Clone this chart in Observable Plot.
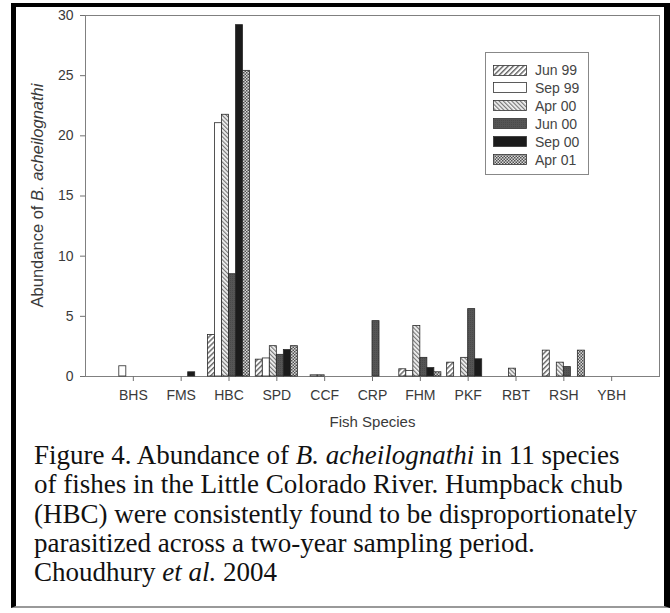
<!DOCTYPE html>
<html>
<head>
<meta charset="utf-8">
<script src="https://cdn.jsdelivr.net/npm/d3@7"></script>
<script src="https://cdn.jsdelivr.net/npm/@observablehq/plot@0.6"></script>
<style>
  html, body { margin: 0; padding: 0; background: #fff; }
  #page { position: relative; width: 670px; height: 613px; overflow: hidden; background: #fff; }
  #border { position: absolute; left: 11px; top: 3px; width: 659px; height: 605px; box-sizing: border-box;
    border-left: 5px solid #000; border-top: 4px solid #000; border-right: 6px solid #000; border-bottom: 2px solid #999; }
  #chart { position: absolute; left: 0; top: 0; }
  #legend { position: absolute; left: 485px; top: 52px; width: 104px; height: 123px; box-sizing: border-box;
    border: 1px solid #888; background: #fff; font-family: "Liberation Sans", Arial, sans-serif; font-size: 14px; color: #444; }
  .lrow { position: absolute; left: 7px; height: 18px; display: flex; align-items: center; }
  .lrow svg { display: block; margin-right: 8px; }
  #caption { position: absolute; left: 34px; top: 441px; width: 630px; font-family: "Liberation Serif", "Times New Roman", serif;
    font-size: 27px; line-height: 29.3px; color: #111; white-space: nowrap; }
</style>
</head>
<body>
<div id="page">
  <svg width="0" height="0" style="position:absolute">
    <defs>
      <pattern id="pJun99" patternUnits="userSpaceOnUse" width="3.6" height="3.6" patternTransform="rotate(45)">
        <rect width="3.6" height="3.6" fill="#fff"/>
        <line x1="0.7" y1="0" x2="0.7" y2="3.6" stroke="#666" stroke-width="1.5"/>
      </pattern>
      <pattern id="pApr00" patternUnits="userSpaceOnUse" width="3" height="3" patternTransform="rotate(-45)">
        <rect width="3" height="3" fill="#f4f4f4"/>
        <line x1="0.6" y1="0" x2="0.6" y2="3" stroke="#777" stroke-width="1.2"/>
      </pattern>
      <pattern id="pJun00" patternUnits="userSpaceOnUse" width="2" height="2">
        <rect width="2" height="2" fill="#555"/>
        <rect width="1" height="1" fill="#4a4a4a"/>
      </pattern>
      <pattern id="pApr01" patternUnits="userSpaceOnUse" width="3" height="3">
        <rect width="3" height="3" fill="#d8d8d8"/>
        <rect x="0" y="0" width="1.5" height="1.5" fill="#505050"/>
        <rect x="1.5" y="1.5" width="1.5" height="1.5" fill="#505050"/>
      </pattern>
    </defs>
  </svg>
  <div id="border"></div>
  <div id="chart"></div>
  <div id="legend"></div>
  <div id="caption">Figure 4. Abundance of <i>B. acheilognathi</i> in 11 species<br>of fishes in the Little Colorado River. Humpback chub<br>(HBC) were consistently found to be disproportionately<br>parasitized across a two-year sampling period.<br>Choudhury <i>et al.</i> 2004</div>
</div>
<script>
// ---- data ----
const species = ["BHS", "FMS", "HBC", "SPD", "CCF", "CRP", "FHM", "PKF", "RBT", "RSH", "YBH"];
const seriesNames = ["Jun 99", "Sep 99", "Apr 00", "Jun 00", "Sep 00", "Apr 01"];
const jun99 = [0, 0, 3.45, 1.4, 0, 0, 0.6, 1.15, 0, 2.15, 0];
const sep99 = [0.85, 0, 21.05, 1.5, 0.1, 0, 0.45, 0, 0, 0, 0];
const apr00 = [0, 0, 21.75, 2.52, 0.1, 0, 4.2, 1.55, 0.65, 1.15, 0];
const jun00 = [0, 0, 8.5, 1.8, 0, 4.6, 1.55, 5.6, 0, 0.78, 0];
const sep00 = [0, 0.35, 29.2, 2.2, 0, 0, 0.7, 1.43, 0, 0, 0];
const apr01 = [0, 0, 25.4, 2.52, 0, 0, 0.35, 0, 0, 2.15, 0];
const yTicks = [0, 5, 10, 15, 20, 25, 30];

// ---- styles ----
const seriesValues = [jun99, sep99, apr00, jun00, sep00, apr01];
const seriesFills = ["url(#pJun99)", "#ffffff", "url(#pApr00)", "url(#pJun00)", "#1b1b1b", "url(#pApr01)"];
const groupWidth = 0.88;
const barW = groupWidth / seriesNames.length;

const barMarks = seriesValues.map((vals, j) => {
  const rows = species.map((s, i) => ({species: s, pos: i + 1, value: vals[i]})).filter(d => d.value > 0);
  return Plot.rectY(rows, {
    x1: d => d.pos - groupWidth / 2 + j * barW,
    x2: d => d.pos - groupWidth / 2 + (j + 1) * barW,
    y1: 0,
    y2: "value",
    fill: seriesFills[j],
    stroke: "#2a2a2a",
    strokeWidth: 0.8
  });
});

const chart = Plot.plot({
  width: 670,
  height: 440,
  marginLeft: 85,
  marginRight: 11,
  marginTop: 15,
  marginBottom: 64,
  style: {background: "transparent", fontFamily: "'Liberation Sans', Arial, sans-serif", fontSize: "14px", color: "#3a3a3a"},
  x: {type: "linear", domain: [0, species.length + 1]},
  y: {type: "linear", domain: [0, 30]},
  marks: [
    Plot.frame({stroke: "#808080", strokeWidth: 1}),
    ...barMarks,
    Plot.axisY({ticks: yTicks, tickSize: 5, tickPadding: 7, label: null, stroke: "#707070"}),
    Plot.axisX({ticks: species.map((s, i) => i + 1), tickFormat: d => species[d - 1], tickSize: 5, tickPadding: 9, label: null, stroke: "#707070"}),
    Plot.text(["Fish Species"], {frameAnchor: "bottom", dy: 50, fontSize: 15, fill: "#3a3a3a"})
  ]
});
document.getElementById("chart").appendChild(chart);

// y-axis title with italic species name
const yScale = chart.scale("y");
const yMid = (yScale.range[0] + yScale.range[1]) / 2;
const svg = d3.select(chart);
const yt = svg.append("text")
  .attr("transform", `translate(37,${yMid}) rotate(-90)`)
  .attr("text-anchor", "middle")
  .attr("dominant-baseline", "central")
  .attr("font-size", 16.5)
  .attr("fill", "#3a3a3a");
yt.append("tspan").text("Abundance of ");
yt.append("tspan").attr("font-style", "italic").text("B. acheilognathi");

// legend
const legend = d3.select("#legend");
seriesNames.forEach((name, j) => {
  const row = legend.append("div").attr("class", "lrow").style("top", (8 + j * 17.9) + "px");
  const sw = row.append("svg").attr("width", 34).attr("height", 11);
  sw.append("rect").attr("x", 0.5).attr("y", 0.5).attr("width", 33).attr("height", 10)
    .attr("fill", seriesFills[j]).attr("stroke", "#333").attr("stroke-width", 0.8);
  row.append("span").text(name);
});
</script>
</body>
</html>
